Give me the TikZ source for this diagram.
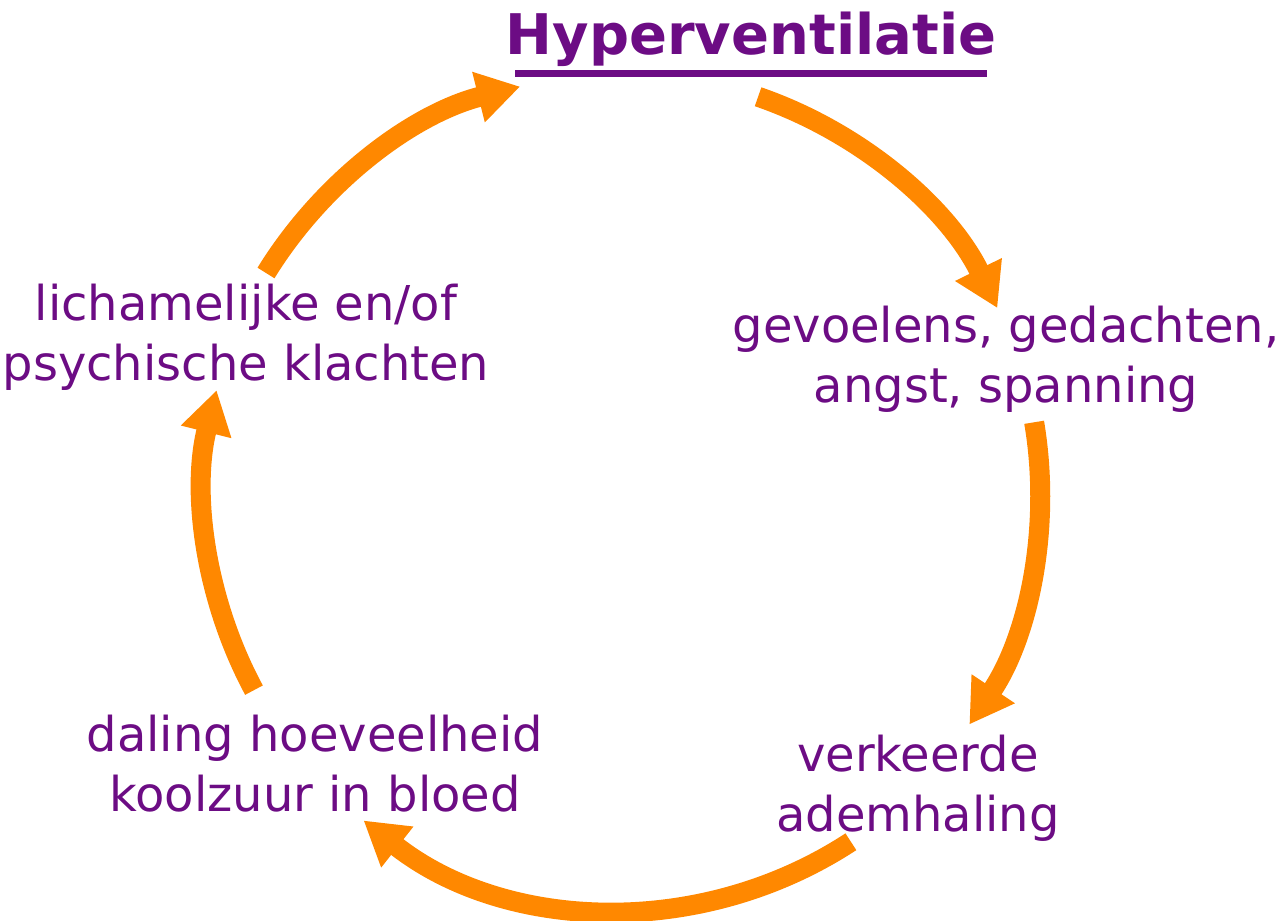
\documentclass[tikz,border=0pt]{standalone}
\usepackage{fontspec}
\setmainfont{DejaVu Sans}
\usetikzlibrary{arrows.meta,calc}
\definecolor{hvpurple}{RGB}{108,12,132}
\definecolor{hvorange}{RGB}{255,136,0}
\begin{document}
\begin{tikzpicture}[x=0.5pt,y=0.5pt,
  cyc/.style={draw=hvorange, line width=10pt, -{Triangle[length=21.5pt,width=24.5pt]}},
  lbl/.style={text=hvpurple, font=\fontsize{24}{30}\selectfont, align=center, inner sep=0pt},
  ttl/.style={text=hvpurple, font=\fontsize{28}{34}\selectfont\bfseries, inner sep=0pt, anchor=base}]
\useasboundingbox (0,0) rectangle (1280,921);
\coordinate (c) at (622,429);
\def\R{418}
% title
\node[ttl] (title) at (751,866) {Hyperventilatie};
\coordinate (ul1) at (515,847.5);
\coordinate (ul2) at (987,847.5);
\draw[hvpurple, line width=3.5pt] (ul1) -- (ul2);
% labels
\node[lbl] (n1) at (246,584) {lichamelijke en/of\\psychische klachten};
\node[lbl] (n2) at (1006,562) {gevoelens, gedachten,\\angst, spanning};
\node[lbl] (n3) at (918,133) {verkeerde\\ademhaling};
\node[lbl] (n4) at (315,157) {daling hoeveelheid\\koolzuur in bloed};
% cycle arcs
\coordinate (s1) at ($(c)+(148.4:\R)$);
\coordinate (s2) at ($(c)+(71.0:\R)$);
\coordinate (s3) at ($(c)+(9.6:\R)$);
\coordinate (s4) at ($(c)+(-56.8:\R)$);
\coordinate (s5) at ($(c)+(208.3:\R)$);
\draw[cyc] (s1) arc[start angle=148.4, end angle=104.1, radius=\R];
\draw[cyc] (s2) arc[start angle=71.0, end angle=26.1, radius=\R];
\draw[cyc] (s3) arc[start angle=9.6, end angle=-33.8, radius=\R];
\draw[cyc] (s4) arc[start angle=-56.8, end angle=-128.2, radius=\R];
\draw[cyc] (s5) arc[start angle=208.3, end angle=165.9, radius=\R];
\end{tikzpicture}
\end{document}
